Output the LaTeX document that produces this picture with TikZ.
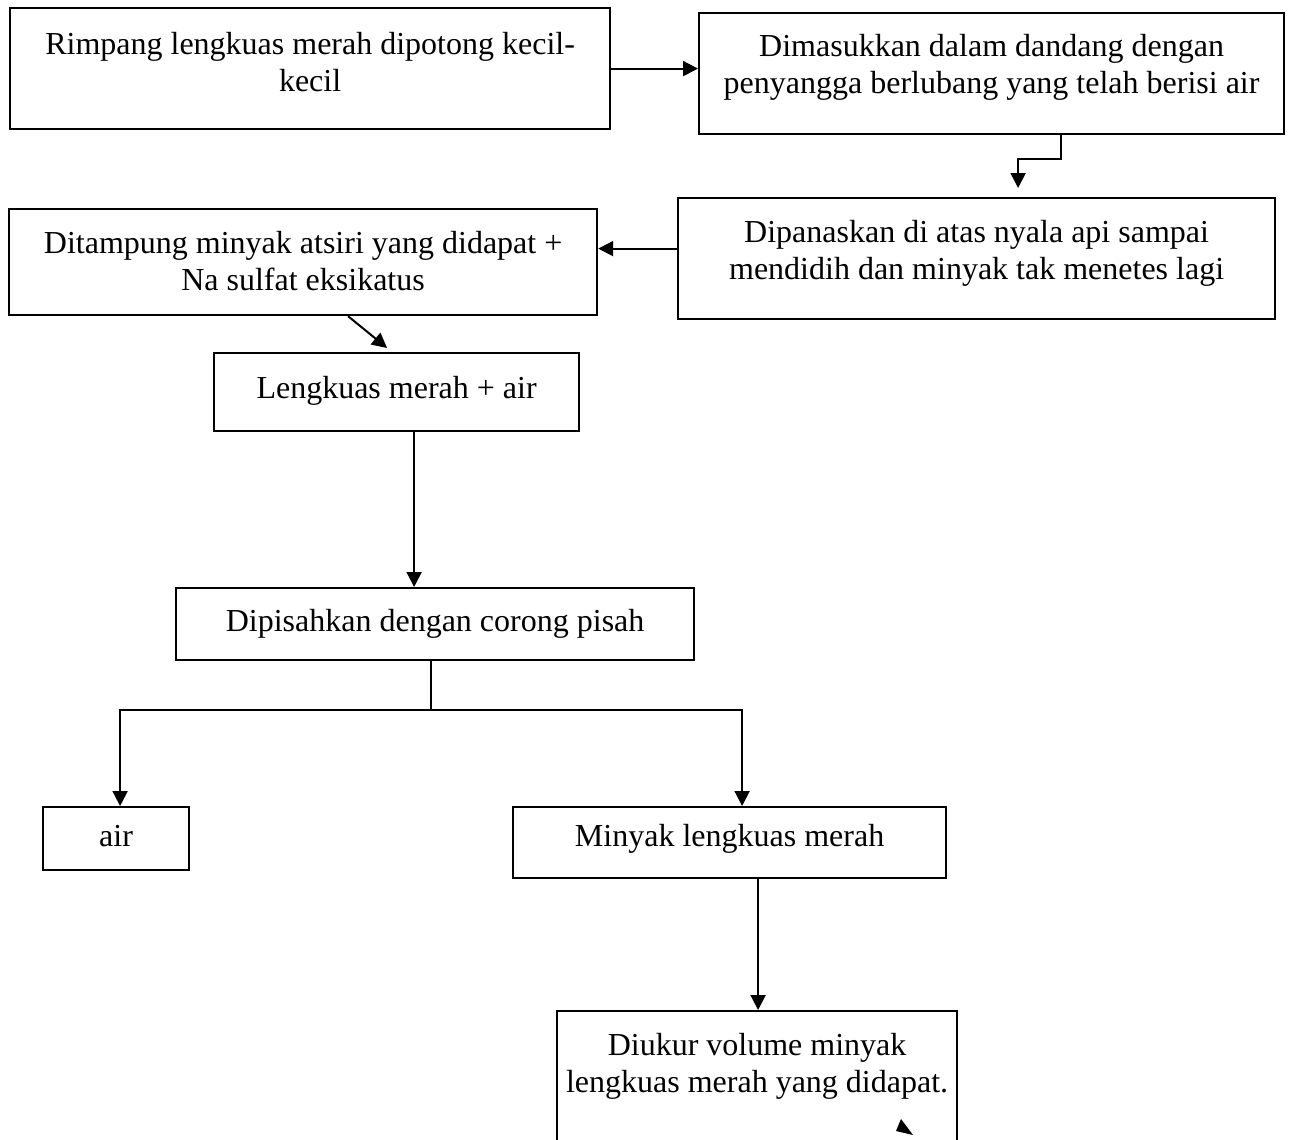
\documentclass[tikz,border=0pt]{standalone}
\usepackage{fontspec}
\setmainfont{Liberation Serif}
\usepackage{tikz}
\usetikzlibrary{positioning, arrows.meta}

\begin{document}
\begin{tikzpicture}[
        x=0.5pt, y=-0.5pt,
        >={Triangle[length=7.5pt, width=7.5pt]},
        flowbox/.style={draw, line width=1.1pt, anchor=north west, inner sep=0pt, align=center,
            font=\fontsize{16pt}{18.5pt}\selectfont},
        arrow/.style={->, line width=1pt},
        link/.style={line width=1pt}
    ]
    \useasboundingbox (0,0) rectangle (1296,1140);

    % Nodes
    \node[flowbox, minimum width=300pt, text height=41.5pt, text depth=19pt] (rimpang) at (9,7)
        {Rimpang lengkuas merah dipotong kecil-\\kecil};
    \node[flowbox, minimum width=292.5pt, text height=40pt, text depth=20.5pt] (dandang) at (698,12)
        {Dimasukkan dalam dandang dengan\\penyangga berlubang yang telah berisi air};
    \node[flowbox, minimum width=298.5pt, text height=40.5pt, text depth=20pt] (panas) at (677,197)
        {Dipanaskan di atas nyala api sampai\\mendidih dan minyak tak menetes lagi};
    \node[flowbox, minimum width=294pt, text height=40.5pt, text depth=12.5pt] (tampung) at (8,208)
        {Ditampung minyak atsiri yang didapat +\\Na sulfat eksikatus};
    \node[flowbox, minimum width=182.5pt, text height=22.5pt, text depth=16.5pt] (campur) at (213,352)
        {Lengkuas merah + air};
    \node[flowbox, minimum width=259pt, text height=21.5pt, text depth=14.5pt] (pisah) at (175,587)
        {Dipisahkan dengan corong pisah};
    \node[flowbox, minimum width=73pt, text height=19.5pt, text depth=12pt] (air) at (42,806)
        {air};
    \node[flowbox, minimum width=216.5pt, text height=19.5pt, text depth=16pt] (minyak) at (512,806)
        {Minyak lengkuas merah};
    \node[flowbox, minimum width=200pt, text height=40.5pt, text depth=40pt] (ukur) at (556,1010)
        {Diukur volume minyak\\lengkuas merah yang didapat.};

    % Arrows
    \draw[arrow] (rimpang.east) -- (rimpang.east -| dandang.west);
    \draw[arrow] ([xshift=34.75pt]dandang.south) -- ++(0,24) -| ([xshift=20.75pt, yshift=4.5pt]panas.north);
    \draw[arrow] ([yshift=5pt]panas.west) -- ([yshift=5pt]panas.west -| tampung.east);
    \draw[arrow] ([xshift=22.5pt]tampung.south) -- ([xshift=-4.75pt, yshift=2pt]campur.north);
    \draw[arrow] ([xshift=8.75pt]campur.south) -- ([xshift=8.75pt]campur.south |- pisah.north);
    \draw[link] ([xshift=-2pt]pisah.south) -- ++(0,49) coordinate (cabang);
    \draw[arrow] (cabang) -| ([xshift=2pt]air.north);
    \draw[arrow] (cabang) -| ([xshift=6.25pt]minyak.north);
    \draw[arrow] ([xshift=14.25pt]minyak.south) -- ([xshift=14.25pt]minyak.south |- ukur.north);

    % loose tip
    \coordinate (ujung) at (901,1119);
    \fill (ujung) -- ++(-5,12) -- ++(17,4) -- cycle;
\end{tikzpicture}
\end{document}
